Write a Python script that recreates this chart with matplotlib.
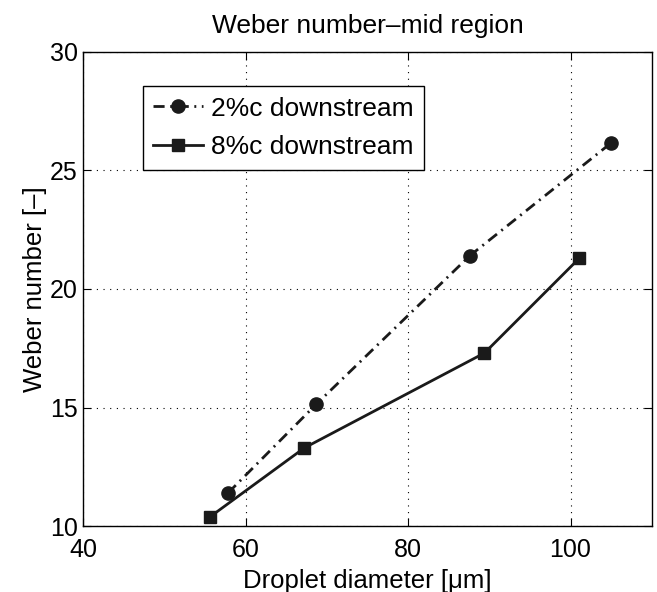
import matplotlib
matplotlib.use("Agg")
import matplotlib.pyplot as plt

plt.rcParams['font.family'] = ['Liberation Sans', 'DejaVu Sans']

# valores
d_2c = [57.8, 68.7, 87.6, 105.0]
we_2c = [11.4, 15.15, 21.4, 26.15]
d_8c = [55.6, 67.2, 89.4, 101.1]
we_8c = [10.4, 13.3, 17.3, 21.3]
xticks = [40, 60, 80, 100]
yticks = [10, 15, 20, 25, 30]

fig = plt.figure(figsize=(6.57, 5.92), dpi=100)
ax = fig.add_axes([0.127, 0.111, 0.865, 0.802])

ax.plot(d_2c, we_2c, color="#1a1a1a", linewidth=2.0, linestyle=(0, (4, 2, 0.7, 2)),
        marker="o", markersize=9.5, label="2%c downstream")
ax.plot(d_8c, we_8c, color="#1a1a1a", linewidth=2.0, linestyle="-",
        marker="s", markersize=8.5, label="8%c downstream")

ax.set_xlim(40, 110)
ax.set_ylim(10, 30)
ax.set_xticks(xticks)
ax.set_yticks(yticks)
ax.tick_params(direction="in", top=True, right=True, length=6, width=0.8, labelsize=18)
ax.tick_params(axis="x", pad=8.5)
ax.tick_params(axis="y", pad=4)
ax.grid(True, color="black", linestyle=(0, (1, 5)), linewidth=0.8)
for s in ax.spines.values():
    s.set_linewidth(1.0)

ax.set_xlabel("Droplet diameter [\u03bcm]", fontsize=18.5, labelpad=5)
ax.set_ylabel("Weber number [\u2013]", fontsize=18.5, labelpad=2)
ax.set_title("Weber number\u2013mid region", fontsize=19, pad=13)

leg = ax.legend(loc="upper left", bbox_to_anchor=(0.104, 0.927), borderaxespad=0,
                fontsize=19, fancybox=False, edgecolor="black", framealpha=1,
                handlelength=1.9, handletextpad=0.3, borderpad=0.4, labelspacing=0.55)
leg.get_frame().set_linewidth(1.0)

plt.savefig("out.png", dpi=100)
